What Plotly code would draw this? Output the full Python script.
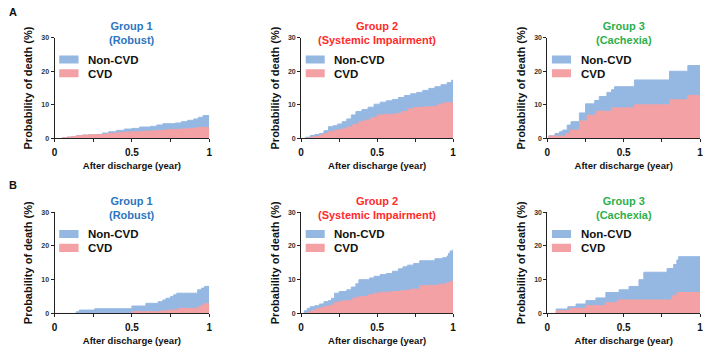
import plotly.graph_objects as go

# ---------------- data (cumulative probability of death, %) ----------------
# Panel A (row 1)
A1_all_t = [0, 0.05, 0.08, 0.11, 0.14, 0.18, 0.22, 0.28, 0.31, 0.35, 0.40, 0.45, 0.50, 0.55, 0.62, 0.66, 0.70, 0.78, 0.82, 0.86, 0.90, 0.93, 0.96, 1.0]
A1_all_v = [0, 0.2, 0.4, 0.6, 0.8, 1.0, 1.1, 1.2, 1.6, 2.0, 2.4, 2.8, 3.0, 3.4, 3.6, 4.0, 4.4, 4.6, 5.0, 5.4, 5.8, 6.3, 6.8, 7.0]
A1_cvd_t = [0, 0.05, 0.08, 0.11, 0.14, 0.18, 0.22, 0.28, 0.34, 0.40, 0.45, 0.50, 0.58, 0.65, 0.72, 0.80, 0.86, 0.92, 1.0]
A1_cvd_v = [0, 0.2, 0.4, 0.6, 0.8, 1.0, 1.1, 1.2, 1.5, 1.7, 1.9, 2.0, 2.2, 2.4, 2.6, 2.8, 3.0, 3.3, 3.3]

A2_all_t = [0, 0.03, 0.06, 0.09, 0.12, 0.15, 0.18, 0.21, 0.24, 0.27, 0.30, 0.33, 0.36, 0.40, 0.44, 0.48, 0.52, 0.56, 0.60, 0.64, 0.68, 0.72, 0.76, 0.80, 0.84, 0.88, 0.92, 0.96, 0.99, 1.0]
A2_all_v = [0, 0.4, 0.9, 1.2, 1.5, 2.3, 3.5, 3.8, 4.3, 5.0, 5.8, 7.0, 8.0, 8.6, 9.3, 10.2, 10.8, 11.2, 11.6, 12.2, 12.8, 13.3, 13.7, 14.3, 14.9, 15.4, 16.0, 16.6, 17.3, 17.5]
A2_cvd_t = [0, 0.05, 0.08, 0.12, 0.15, 0.18, 0.22, 0.26, 0.30, 0.34, 0.38, 0.42, 0.46, 0.50, 0.55, 0.62, 0.66, 0.70, 0.74, 0.80, 0.86, 0.90, 0.94, 1.0]
A2_cvd_v = [0, 0.3, 0.6, 1.0, 1.5, 2.0, 2.5, 2.8, 3.4, 4.2, 5.0, 5.5, 6.2, 7.0, 7.2, 7.4, 8.0, 8.8, 9.2, 9.4, 9.5, 10.2, 10.6, 10.8]

A3_all_t = [0, 0.01, 0.05, 0.08, 0.10, 0.13, 0.155, 0.21, 0.25, 0.31, 0.34, 0.39, 0.42, 0.44, 0.57, 0.80, 0.92, 1.0]
A3_all_v = [0, 0.8, 1.5, 2.0, 2.5, 4.0, 5.0, 7.6, 10.3, 11.3, 12.5, 13.7, 14.5, 15.4, 17.4, 20.0, 21.7, 21.7]
A3_cvd_t = [0, 0.01, 0.12, 0.15, 0.21, 0.26, 0.32, 0.42, 0.57, 0.80, 0.92, 1.0]
A3_cvd_v = [0, 0.7, 1.5, 2.5, 5.2, 6.9, 8.1, 9.1, 10.0, 11.5, 12.8, 12.8]

# Panel B (row 2)
B1_all_t = [0, 0.14, 0.16, 0.26, 0.50, 0.59, 0.67, 0.70, 0.72, 0.75, 0.77, 0.79, 0.925, 0.95, 0.97, 1.0]
B1_all_v = [0, 0.5, 1.0, 1.4, 2.2, 3.0, 3.5, 4.0, 4.5, 5.0, 5.5, 6.0, 7.0, 7.5, 8.0, 8.0]
B1_cvd_t = [0, 0.50, 0.69, 0.75, 0.80, 0.93, 0.95, 0.97, 1.0]
B1_cvd_v = [0, 0.5, 0.8, 1.0, 1.5, 2.0, 2.5, 2.9, 2.9]

B2_all_t = [0, 0.02, 0.04, 0.06, 0.09, 0.12, 0.15, 0.18, 0.20, 0.22, 0.25, 0.30, 0.33, 0.36, 0.38, 0.45, 0.48, 0.52, 0.56, 0.60, 0.64, 0.67, 0.70, 0.74, 0.78, 0.88, 0.93, 0.96, 0.97, 0.98, 1.0]
B2_all_v = [0, 0.8, 1.5, 2.0, 2.3, 2.8, 3.5, 3.8, 4.5, 6.0, 6.5, 7.0, 7.8, 8.8, 10.0, 10.5, 11.0, 11.5, 11.8, 12.5, 13.2, 13.8, 14.3, 14.8, 15.6, 16.2, 16.5, 17.0, 17.8, 18.5, 19.0]
B2_cvd_t = [0, 0.04, 0.07, 0.10, 0.13, 0.16, 0.20, 0.22, 0.26, 0.30, 0.34, 0.38, 0.44, 0.48, 0.52, 0.60, 0.66, 0.72, 0.78, 0.82, 0.90, 0.95, 0.98, 1.0]
B2_cvd_v = [0, 0.4, 0.9, 1.4, 1.8, 2.2, 2.5, 3.3, 3.7, 3.8, 4.6, 5.0, 5.5, 6.0, 6.3, 6.5, 6.8, 7.2, 8.2, 8.3, 8.6, 9.0, 9.5, 9.5]

B3_all_t = [0, 0.058, 0.134, 0.188, 0.253, 0.318, 0.383, 0.47, 0.535, 0.60, 0.632, 0.784, 0.827, 0.848, 0.86, 1.0]
B3_all_v = [0, 1.3, 2.0, 2.8, 3.8, 4.6, 6.2, 7.0, 8.0, 10.0, 12.2, 13.3, 14.5, 15.8, 16.8, 16.8]
B3_cvd_t = [0, 0.058, 0.145, 0.253, 0.383, 0.459, 0.816, 0.848, 1.0]
B3_cvd_v = [0, 0.8, 1.5, 2.3, 3.2, 4.0, 5.2, 6.2, 6.2]

group_titles = ["Group 1<br>(Robust)", "Group 2<br>(Systemic Impairment)", "Group 3<br>(Cachexia)"]
group_colors = ["#2E75C0", "#FF2B2B", "#2DB04B"]
series_names = ["Non-CVD", "CVD"]
x_tickvals = [0, 0.25, 0.5, 0.75, 1]
x_ticktext = ["0", "", "0.5", "", "1"]
y_tickvals = [0, 10, 20, 30]
x_title = "After discharge (year)"
y_title = "Probability of death (%)"
panel_letters = ["A", "B"]

panels = [
    (A1_all_t, A1_all_v, A1_cvd_t, A1_cvd_v),
    (A2_all_t, A2_all_v, A2_cvd_t, A2_cvd_v),
    (A3_all_t, A3_all_v, A3_cvd_t, A3_cvd_v),
    (B1_all_t, B1_all_v, B1_cvd_t, B1_cvd_v),
    (B2_all_t, B2_all_v, B2_cvd_t, B2_cvd_v),
    (B3_all_t, B3_all_v, B3_cvd_t, B3_cvd_v),
]

# ---------------- styling ----------------
W, H = 709, 354
BLUE = "#95B8E3"
PINK = "#F3A1A5"
FONT = "Arial, Liberation Sans, sans-serif"
col_px = [(52, 208), (300.7, 454), (549, 703)]
row_px = [(34.3, 137.2), (212.3, 315.7)]  # (top, bottom) in px

fig = go.Figure()
annotations = []
shapes = []

for i, (at, av, ct, cv) in enumerate(panels):
    r, c = divmod(i, 3)
    n = i + 1
    xa = "x" if n == 1 else f"x{n}"
    ya = "y" if n == 1 else f"y{n}"
    fig.add_trace(go.Scatter(x=at, y=av, mode="lines", line=dict(shape="hv", color=BLUE, width=1),
                             fill="tozeroy", fillcolor=BLUE, name=series_names[0],
                             showlegend=False, xaxis=xa, yaxis=ya))
    fig.add_trace(go.Scatter(x=ct, y=cv, mode="lines", line=dict(shape="hv", color=PINK, width=1),
                             fill="tozeroy", fillcolor=PINK, name=series_names[1],
                             showlegend=False, xaxis=xa, yaxis=ya))
    x0, x1 = col_px[c]
    yt, yb = row_px[r]
    xdom = [x0 / W, x1 / W]
    ydom = [1 - yb / H, 1 - yt / H]
    sfx = "" if n == 1 else str(n)
    fig.update_layout(**{
        f"xaxis{sfx}": dict(domain=xdom, range=[0, 1], anchor=ya, showgrid=False, zeroline=False,
                            showline=True, linecolor="#222", linewidth=1, ticks="outside", ticklen=3,
                            tickcolor="#222", tickvals=x_tickvals, ticktext=x_ticktext,
                            ticklabelstandoff=2, ticklabeloverflow="allow",
                            tickfont=dict(family=FONT, size=10, color="#111", weight="bold"),
                            title=dict(text=x_title, font=dict(family=FONT, size=9.5, color="#111", weight="bold"),
                                       standoff=4)),
        f"yaxis{sfx}": dict(domain=ydom, range=[0, 30], anchor=xa, showgrid=False, zeroline=False,
                            showline=True, linecolor="#222", linewidth=1, ticks="outside", ticklen=3,
                            tickcolor="#222", tickvals=y_tickvals, ticklabeloverflow="allow",
                            tickfont=dict(family=FONT, size=7, color="#333", weight="bold"),
                            title=dict(text=y_title, font=dict(family=FONT, size=11, color="#111", weight="bold"),
                                       standoff=6)),
    })
    # group title
    annotations.append(dict(text=group_titles[c], xref="paper", yref="paper",
                            x=(x0 + x1) / 2 / W, y=1 - (yt - 4.3) / H, xanchor="center", yanchor="middle",
                            showarrow=False, font=dict(family=FONT, size=11, color=group_colors[c], weight="bold")))
    # legend swatches + labels
    xd = f"{xa} domain"
    for (y_lo, y_hi, y_txt, col, name) in [(22.3, 24.7, 23.4, BLUE, series_names[0]),
                                           (18.2, 20.6, 19.3, PINK, series_names[1])]:
        shapes.append(dict(type="rect", xref=xd, yref=ya, x0=0.03, x1=0.155, y0=y_lo, y1=y_hi,
                           fillcolor=col, line=dict(width=0), layer="above"))
        annotations.append(dict(text=name, xref=xd, yref=ya, x=0.205, y=y_txt, xanchor="left",
                                yanchor="middle", showarrow=False,
                                font=dict(family=FONT, size=11.5, color="#111", weight="bold")))

for r, letter in enumerate(panel_letters):
    annotations.append(dict(text=letter, xref="paper", yref="paper", x=4 / W,
                            y=1 - (8 + r * 177) / H, xanchor="left", yanchor="middle", showarrow=False,
                            font=dict(family=FONT, size=11, color="#111", weight="bold")))

fig.update_layout(width=W, height=H, margin=dict(l=0, r=0, t=0, b=0),
                  paper_bgcolor="white", plot_bgcolor="white",
                  annotations=annotations, shapes=shapes, showlegend=False)

fig.write_html("out.html", config={"displayModeBar": False},
               post_script="document.body.style.margin='0';document.body.style.overflow='hidden';")
